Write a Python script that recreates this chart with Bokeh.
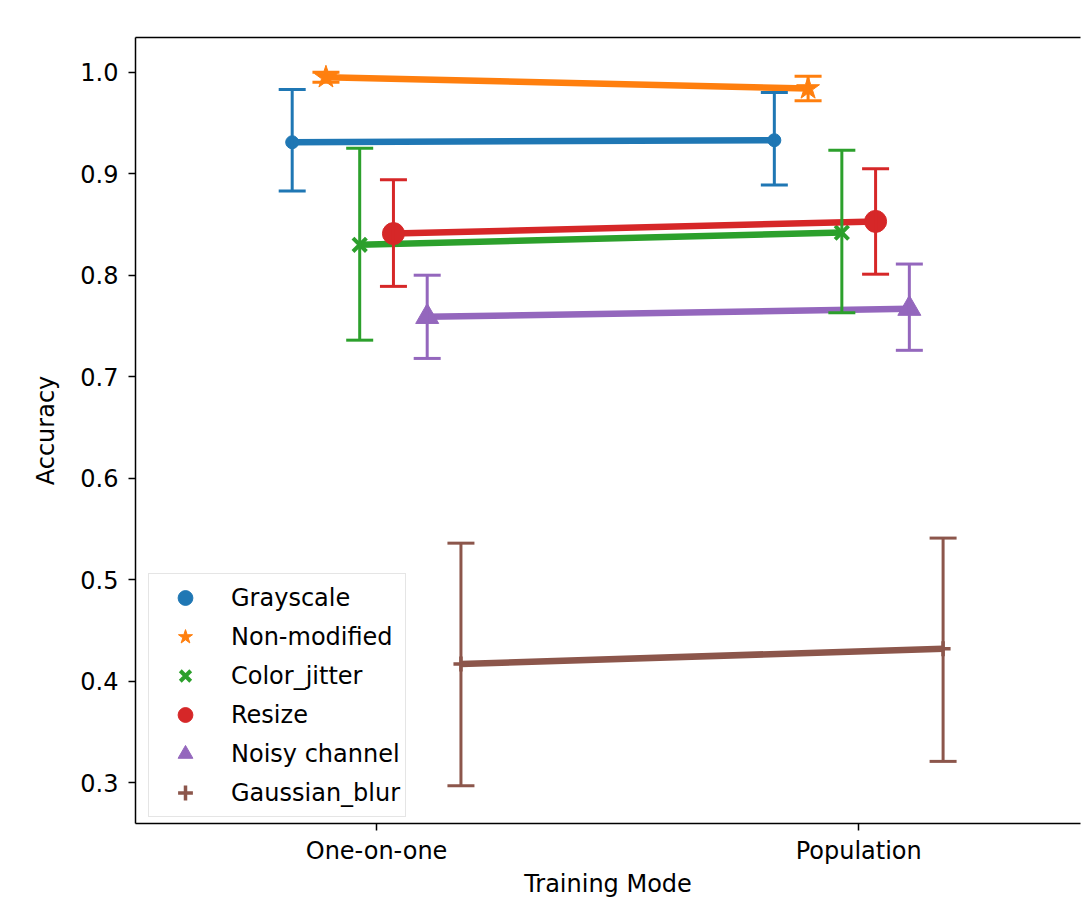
import numpy as np
from bokeh.plotting import figure
from bokeh.models import (ColumnDataSource, Whisker, TeeHead, Legend, LegendItem,
                          FixedTicker, LinearAxis, Range1d, PrintfTickFormatter)
from bokeh.embed import file_html
from bokeh.resources import INLINE

# ---------------- data ----------------
categories = ["One-on-one", "Population"]
series = ["Grayscale", "Non-modified", "Color_jitter", "Resize", "Noisy channel", "Gaussian_blur"]

grayscale_mean = [0.931, 0.933]
grayscale_low = [0.883, 0.889]
grayscale_high = [0.983, 0.980]

nonmodified_mean = [0.995, 0.984]
nonmodified_low = [0.990, 0.972]
nonmodified_high = [1.000, 0.996]

colorjitter_mean = [0.830, 0.842]
colorjitter_low = [0.736, 0.763]
colorjitter_high = [0.925, 0.923]

resize_mean = [0.841, 0.853]
resize_low = [0.789, 0.801]
resize_high = [0.894, 0.905]

noisy_mean = [0.759, 0.767]
noisy_low = [0.718, 0.726]
noisy_high = [0.800, 0.811]

gaussian_mean = [0.417, 0.432]
gaussian_low = [0.297, 0.321]
gaussian_high = [0.536, 0.541]

y_ticks = [0.3, 0.4, 0.5, 0.6, 0.7, 0.8, 0.9, 1.0]

means = [grayscale_mean, nonmodified_mean, colorjitter_mean, resize_mean, noisy_mean, gaussian_mean]
lows = [grayscale_low, nonmodified_low, colorjitter_low, resize_low, noisy_low, gaussian_low]
highs = [grayscale_high, nonmodified_high, colorjitter_high, resize_high, noisy_high, gaussian_high]

# ---------------- style ----------------
colors = ["#1f77b4", "#ff7f0e", "#2ca02c", "#d62728", "#9467bd", "#8c564b"]
markers = ["circle", "star", "x", "circle", "triangle", "cross"]
msizes = [13, 24, 19, 22, 23, 15]
mlines = [1, 1, 4, 1, 1, 3.5]
dodge = 0.35
offsets = np.linspace(-dodge / 2, dodge / 2, len(series))
FONT = "DejaVu Sans"

p = figure(frame_width=945, frame_height=786,
           min_border_left=135, min_border_top=37, min_border_right=4, min_border_bottom=2,
           x_range=Range1d(-0.5, 1.46), y_range=Range1d(0.2598, 1.0342),
           output_backend="svg", toolbar_location=None)
p.outline_line_color = None
p.xgrid.visible = False
p.ygrid.visible = False
p.background_fill_color = "white"

# axes
for ax in (p.xaxis[0], p.yaxis[0]):
    ax.axis_line_width = 1.5
    ax.axis_line_color = "black"
    ax.major_tick_line_width = 1.5
    ax.major_tick_line_color = "black"
    ax.major_tick_out = 7
    ax.major_tick_in = 0
    ax.minor_tick_line_color = None
    ax.major_label_text_font = FONT
    ax.major_label_text_font_size = "24px"
    ax.major_label_text_color = "black"
    ax.axis_label_text_font = FONT
    ax.axis_label_text_font_size = "24px"
    ax.axis_label_text_font_style = "normal"
    ax.axis_label_text_color = "black"

p.xaxis[0].ticker = FixedTicker(ticks=list(range(len(categories))))
p.xaxis[0].major_label_overrides = {i: c for i, c in enumerate(categories)}
p.xaxis[0].axis_label = "Training Mode"
p.xaxis[0].major_label_standoff = 6
p.xaxis[0].axis_label_standoff = 2

p.yaxis[0].ticker = FixedTicker(ticks=y_ticks)
p.yaxis[0].formatter = PrintfTickFormatter(format="%.1f")
p.yaxis[0].axis_label = "Accuracy"
p.yaxis[0].major_label_standoff = 10
p.yaxis[0].axis_label_standoff = 17

# top spine
top = LinearAxis(ticker=FixedTicker(ticks=[]), major_label_text_font_size="0px",
                 axis_line_width=1.5, axis_line_color="black",
                 major_tick_line_color=None, minor_tick_line_color=None)
p.add_layout(top, "above")

items = []
base_x = np.arange(len(categories))
for i, name in enumerate(series):
    xs = base_x + offsets[i]
    c = colors[i]
    p.line(x=xs, y=means[i], line_color=c, line_width=6.5)
    src = ColumnDataSource(dict(base=xs, lower=lows[i], upper=highs[i]))
    w = Whisker(source=src, base="base", lower="lower", upper="upper", dimension="height",
                line_color=c, line_width=3, level="glyph",
                upper_head=TeeHead(size=27, line_color=c, line_width=3),
                lower_head=TeeHead(size=27, line_color=c, line_width=3))
    p.add_layout(w)
    r = p.scatter(x=xs, y=means[i], marker=markers[i], size=msizes[i],
                  fill_color=c, line_color=c, line_width=mlines[i])
    items.append(LegendItem(label=name, renderers=[r]))

legend = Legend(items=items, location=(13, 6),
                label_text_font=FONT, label_text_font_size="24px", label_text_color="black",
                glyph_width=62, glyph_height=37, spacing=2, padding=5, label_standoff=15,
                border_line_color="#cccccc", border_line_width=1.5,
                background_fill_color="white", background_fill_alpha=0.8, margin=0)
p.add_layout(legend)

open("out.html", "w").write(file_html(p, INLINE))
